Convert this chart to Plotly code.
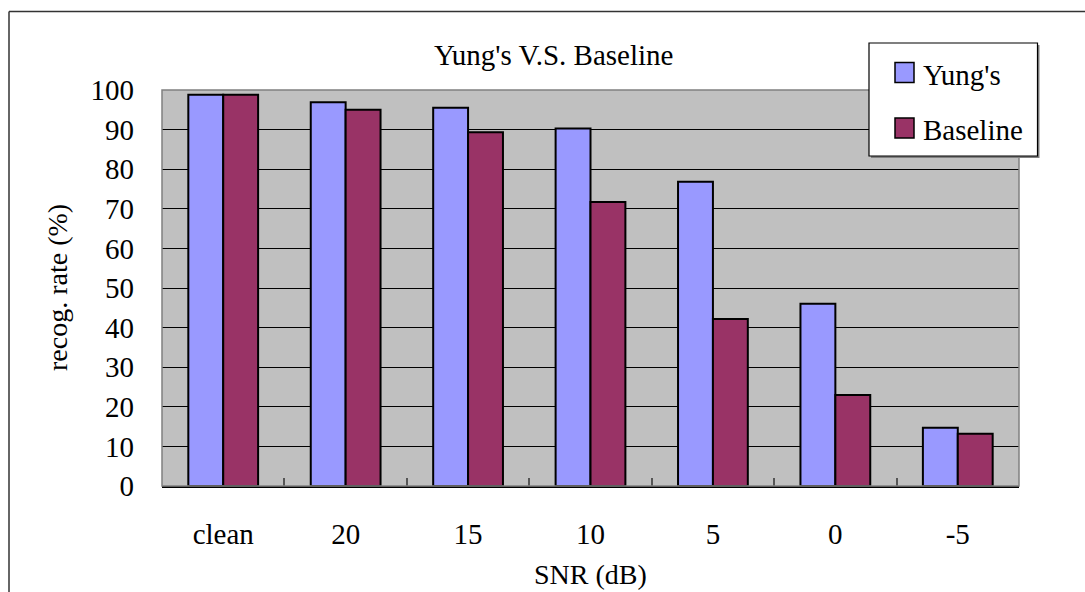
import plotly.graph_objects as go

categories = ["clean", "20", "15", "10", "5", "0", "-5"]
yung = [98.8, 96.9, 95.5, 90.3, 76.8, 46.0, 14.7]
baseline = [98.8, 95.0, 89.3, 71.7, 42.2, 23.0, 13.2]
series_names = ["Yung's", "Baseline"]
colors = ["#9999FF", "#993366"]

FONT = "Liberation Serif"
W, H = 1085, 592
L, R, T, B = 162, 66, 90, 106
pw, ph = W - L - R, H - T - B

def px(x):
    return (x - L) / pw

def py(y):
    return (H - B - y) / ph

fig = go.Figure()
for name, vals, col in zip(series_names, [yung, baseline], colors):
    fig.add_trace(go.Bar(x=categories, y=vals, name=name,
                         marker=dict(color=col, line=dict(color="black", width=2)),
                         showlegend=False))

shapes = []
annotations = []
# outer chart border (left and top lines)
shapes.append(dict(type="line", xref="paper", yref="paper", x0=px(9), x1=px(1090),
                   y0=py(11.5), y1=py(11.5), line=dict(color="#333333", width=1.5)))
shapes.append(dict(type="line", xref="paper", yref="paper", x0=px(9), x1=px(9),
                   y0=py(11.5), y1=py(600), line=dict(color="#333333", width=1.5)))
# plot area border
shapes.append(dict(type="rect", xref="paper", yref="paper", x0=0, x1=1, y0=0, y1=1,
                   line=dict(color="#808080", width=1.5), layer="above"))
# custom legend
shapes.append(dict(type="rect", xref="paper", yref="paper", x0=px(871), x1=px(1039.5),
                   y0=py(45), y1=py(158), fillcolor="#808080", line=dict(width=0)))
shapes.append(dict(type="rect", xref="paper", yref="paper", x0=px(869), x1=px(1037.5),
                   y0=py(43), y1=py(156), fillcolor="white", line=dict(color="black", width=1.2)))
for i, (name, col) in enumerate(zip(series_names, colors)):
    cy = 72.5 + i * 55.5
    shapes.append(dict(type="rect", xref="paper", yref="paper", x0=px(895), x1=px(914),
                       y0=py(cy - 10), y1=py(cy + 10), fillcolor=col,
                       line=dict(color="black", width=1.5)))
    annotations.append(dict(text=name, xref="paper", yref="paper", x=px(921), y=py(cy + 2),
                            xanchor="left", yanchor="middle", showarrow=False,
                            font=dict(family=FONT, size=29, color="black")))

annotations.append(dict(text="Yung's V.S. Baseline", xref="paper", yref="paper",
                        x=px(553), y=py(55), xanchor="center", yanchor="middle",
                        showarrow=False, font=dict(family=FONT, size=29, color="black")))
annotations.append(dict(text="SNR (dB)", xref="paper", yref="paper",
                        x=px(590), y=py(574), xanchor="center", yanchor="middle",
                        showarrow=False, font=dict(family=FONT, size=28, color="black")))
annotations.append(dict(text="recog. rate (%)", xref="paper", yref="paper",
                        x=px(57), y=py(288), xanchor="center", yanchor="middle", textangle=-90,
                        showarrow=False, font=dict(family=FONT, size=28, color="black")))

fig.update_layout(
    width=W, height=H,
    margin=dict(l=L, r=R, t=T, b=B),
    paper_bgcolor="white", plot_bgcolor="#C0C0C0",
    barmode="group", bargap=0.43, bargroupgap=0,
    font=dict(family=FONT, size=29, color="black"),
    shapes=shapes, annotations=annotations,
    showlegend=False,
)
fig.update_xaxes(type="category", showgrid=False, showline=True, linecolor="black", linewidth=2,
                 ticks="inside", tickson="boundaries", ticklen=8, tickcolor="#555555", tickwidth=1.5,
                 ticklabelstandoff=21, tickfont=dict(family=FONT, size=29, color="black"))
fig.update_yaxes(range=[0, 100], dtick=10, showgrid=True, gridcolor="black", gridwidth=1,
                 zeroline=False, showline=False, ticks="",
                 ticklabelstandoff=27, tickfont=dict(family=FONT, size=29, color="black"))

fig.write_html("out.html")
